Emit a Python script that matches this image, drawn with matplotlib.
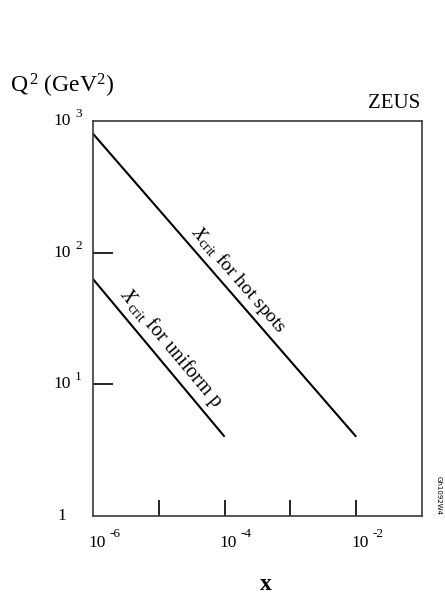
import numpy as np
import matplotlib
matplotlib.use("Agg")
import matplotlib.pyplot as plt
import matplotlib.transforms as mtransforms

plt.rcParams["font.family"] = ["Liberation Serif", "DejaVu Serif"]
plt.rcParams["mathtext.fontset"] = "custom"
plt.rcParams["mathtext.rm"] = "Liberation Serif"
plt.rcParams["mathtext.it"] = "Liberation Serif:italic"
plt.rcParams["mathtext.bf"] = "Liberation Serif:bold"

# Critical-x lines: end points (x, Q^2 in GeV^2)
hot_x = [1e-6, 1e-2]
hot_q2 = [800.0, 4.0]
uni_x = [1e-6, 1e-4]
uni_q2 = [63.0, 4.0]

x_ticks = [1e-6, 1e-4, 1e-2]
x_tick_exps = ["-6", "-4", "-2"]
x_minor = [1e-5, 1e-3]
y_ticks = [1e3, 1e2, 1e1]
y_tick_exps = ["3", "2", "1"]

fig = plt.figure(figsize=(4.45, 6.0), dpi=100)
ax = fig.add_axes([93 / 445, 1 - 516 / 600, 329 / 445, 395 / 600])
ax.set_xscale("log")
ax.set_yscale("log")
ax.set_xlim(1e-6, 1e-1)
ax.set_ylim(1, 1e3)

for sp in ax.spines.values():
    sp.set_color("#3a3a3a")
    sp.set_linewidth(1.2)

ax.plot(hot_x, hot_q2, color="black", lw=1.5, solid_capstyle="butt")
ax.plot(uni_x, uni_q2, color="black", lw=1.5, solid_capstyle="butt")

# inward ticks; labels are placed by hand below
ax.xaxis.set_major_locator(matplotlib.ticker.FixedLocator(x_ticks[1:] + x_minor))
ax.xaxis.set_minor_locator(matplotlib.ticker.NullLocator())
ax.yaxis.set_major_locator(matplotlib.ticker.FixedLocator([1e1, 1e2]))
ax.yaxis.set_minor_locator(matplotlib.ticker.NullLocator())
ax.tick_params(axis="x", direction="in", length=11.5, width=1.2, color="black",
               labelbottom=False)
ax.tick_params(axis="y", direction="in", length=14.5, width=1.2, color="black",
               labelleft=False)


def px(dx, dy):
    return mtransforms.ScaledTranslation(dx / 100, dy / 100, fig.dpi_scale_trans)


bx = mtransforms.blended_transform_factory(ax.transData, ax.transAxes)
for xv, ex in zip(x_ticks, x_tick_exps):
    ax.text(xv, 0, "10", transform=bx + px(4, -27), ha="center", va="center",
            fontsize=12.5)
    ax.text(xv, 0, ex, transform=bx + px(16, -18), ha="left", va="center",
            fontsize=9.5)

by = mtransforms.blended_transform_factory(ax.transAxes, ax.transData)
for yv, ex in zip(y_ticks, y_tick_exps):
    ax.text(0, yv, "10", transform=by + px(-31, 0), ha="center", va="center",
            fontsize=12.5)
    ax.text(0, yv, ex, transform=by + px(-18, 7), ha="left", va="center",
            fontsize=9.5)
ax.text(0, 1.0, "1", transform=by + px(-31, 0), ha="center", va="center",
        fontsize=12.5)

# axis titles
fig.text(10 / 445, 1 - 86 / 600, r"Q$^{\,2}$ (GeV$^{2}$)", ha="left", va="center",
         fontsize=17)
fig.text(266 / 445, 1 - 585 / 600, "x", ha="center", va="center",
         fontsize=17, fontweight="bold")
fig.text(420 / 445, 1 - 104 / 600, "ZEUS", ha="right", va="center", fontsize=15)
fig.text(439 / 445, 1 - 495 / 600, "Gh1092W4", ha="center", va="center",
         rotation=-90, fontsize=5, family="DejaVu Sans")

# line annotations
ax.annotate(r"$X_{\rm crit}$ for hot spots", xy=(10 ** -3.79, 10 ** 1.632),
            xytext=(0, 21), textcoords="offset pixels", rotation=-49,
            rotation_mode="anchor", ha="center", va="center", fontsize=14)
ax.annotate(r"$X_{\rm \,crit}$ for uniform p", xy=(10 ** -4.855, 10 ** 1.113),
            xytext=(3, 21), textcoords="offset pixels", rotation=-50,
            rotation_mode="anchor", ha="center", va="center", fontsize=14.5)

fig.savefig("out.png", dpi=100, facecolor="white")
